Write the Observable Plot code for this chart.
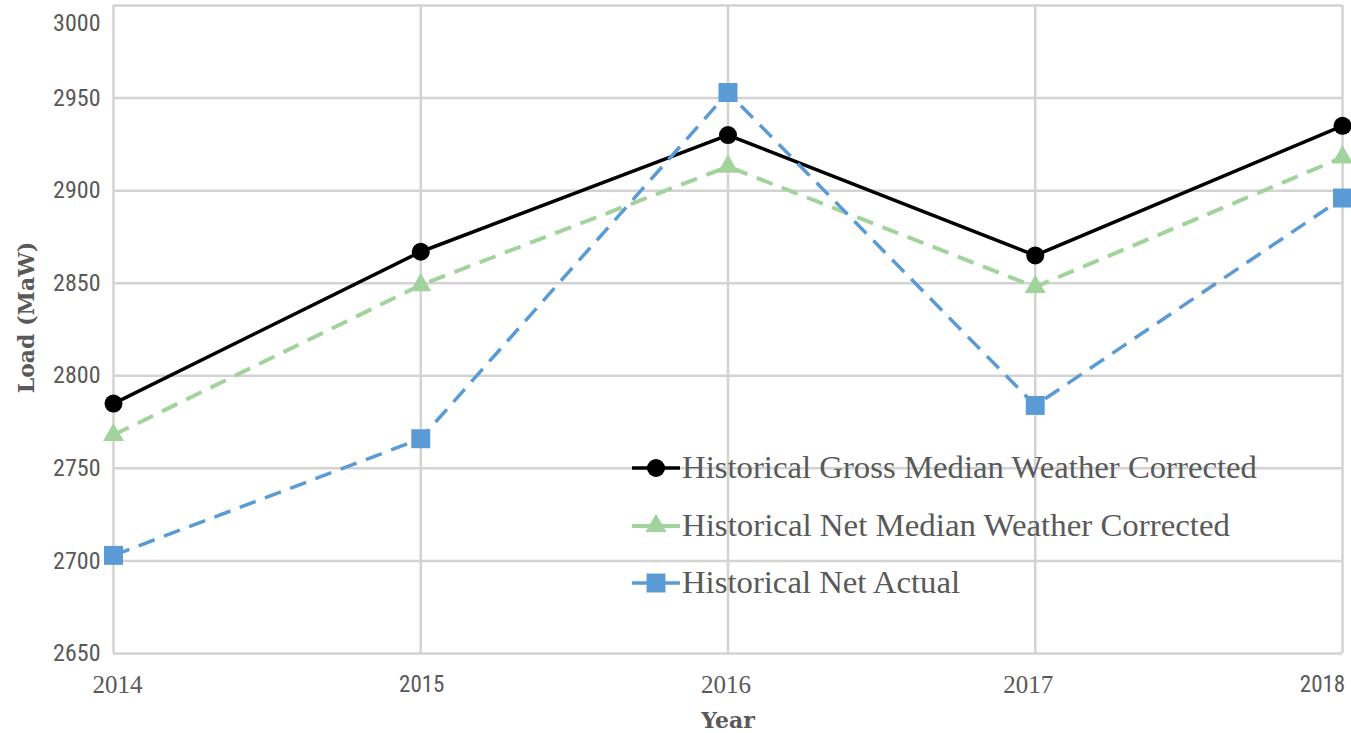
<!DOCTYPE html>
<html>
<head>
<meta charset="utf-8">
<script src="https://cdn.jsdelivr.net/npm/d3@7"></script>
<script src="https://cdn.jsdelivr.net/npm/@observablehq/plot@0.6"></script>
<style>
  html, body { margin: 0; padding: 0; background: #fff; }
  #wrap { position: relative; width: 1351px; height: 733px; }
  #legend { position: absolute; left: 0; top: 0; pointer-events: none; }
</style>
</head>
<body>
<div id="wrap"></div>
<script>
const years = [2014, 2015, 2016, 2017, 2018];
const grossMedianWC = [2785, 2867, 2930, 2865, 2935];
const netMedianWC = [2768, 2849, 2913, 2848, 2918];
const netActual = [2703, 2766, 2953, 2784, 2896];
const seriesNames = [
  "Historical Gross Median Weather Corrected",
  "Historical Net Median Weather Corrected",
  "Historical Net Actual"
];
const yTicks = [2650, 2700, 2750, 2800, 2850, 2900, 2950, 3000];

const colors = ["#000000", "#a3d39c", "#5b9bd5"];
const symbols = ["circle", "triangle", "square"];
const radii = [9, 7.8, 10.7];
const dashes = [null, "17,10", "17,10"];
const widths = [3.5, 4, 3.5];

const seriesVals = [grossMedianWC, netMedianWC, netActual];
const rows = [];
seriesVals.forEach((vals, s) => years.forEach((yr, i) => rows.push({series: seriesNames[s], s, year: yr, value: vals[i]})));

const sansFont = "'Liberation Sans Narrow', 'Roboto Condensed', 'Roboto', sans-serif";
const serifFont = "'Liberation Serif', serif";
const titleFont = "'DejaVu Serif', serif";

const marks = [
  Plot.gridX(years, {stroke: "#d3d3d3", strokeOpacity: 1, strokeWidth: 2.5}),
  Plot.gridY(yTicks, {stroke: "#d3d3d3", strokeOpacity: 1, strokeWidth: 2.5}),
  Plot.axisY(yTicks, {tickSize: 0, tickPadding: 13, fontSize: 24, fill: "#595959",
    fontFamily: sansFont, tickFormat: d => String(d),
    label: "Load (MaW)", labelAnchor: "center", labelArrow: "none", labelOffset: 93}),
  Plot.axisX(years, {tickSize: 0, tickPadding: 22, fontSize: 24, fill: "#595959",
    fontFamily: serifFont, tickFormat: d => String(d),
    label: "Year", labelAnchor: "center", labelArrow: "none", labelOffset: 74})
];
seriesNames.forEach((name, s) => {
  const data = rows.filter(r => r.s === s);
  marks.push(Plot.line(data, {x: "year", y: "value", stroke: colors[s], strokeWidth: widths[s],
    strokeDasharray: dashes[s], strokeLinecap: "butt"}));
});
seriesNames.forEach((name, s) => {
  const data = rows.filter(r => r.s === s);
  marks.push(Plot.dot(data, {x: "year", y: "value", symbol: () => symbols[s], r: radii[s],
    fill: colors[s], stroke: "none"}));
});

const chart = Plot.plot({
  width: 1351,
  height: 733,
  marginLeft: 113,
  marginRight: 9,
  marginTop: 5,
  marginBottom: 80,
  style: {background: "#fff", overflow: "visible"},
  x: {type: "linear", domain: [2014, 2018]},
  y: {domain: [2650, 3000]},
  marks
});
document.getElementById("wrap").appendChild(chart);

// style tweaks for axis text
const svg = d3.select(chart);
const xFonts = [serifFont, sansFont, serifFont, serifFont, sansFont];
const xSizes = [25, 23, 25, 25, 23];
const xShift = [4, 1, -2, -7, -20];
svg.selectAll('g[aria-label="x-axis tick label"] text').each(function(d, i) {
  d3.select(this).style("font-family", xFonts[i]).style("font-size", xSizes[i] + "px").attr("dx", xShift[i]);
});
svg.selectAll('g[aria-label="y-axis tick label"] text').each(function() {
  const t = d3.select(this);
  if (t.text() === "3000") t.attr("dy", "0.75em");
});
svg.selectAll('g[aria-label="y-axis label"] text, g[aria-label="x-axis label"] text')
  .style("font-family", titleFont)
  .style("font-weight", "bold").style("font-size", "22px").style("fill", "#595959");
svg.selectAll('g[aria-label="y-axis label"] text').attr("dy", "-0.1em").attr("dx", 12);

// legend overlay
const leg = d3.select("#wrap").append("svg").attr("id", "legend").attr("width", 1351).attr("height", 733);
const legY = [468, 526, 583];
const legW = [575, 548, 278];
seriesNames.forEach((name, s) => {
  const g = leg.append("g").attr("transform", `translate(632,${legY[s]})`);
  g.append("line").attr("x1", 0).attr("x2", 48).attr("y1", 0).attr("y2", 0)
    .attr("stroke", colors[s]).attr("stroke-width", widths[s]);
  g.append("path").attr("transform", "translate(24,0)")
    .attr("d", d3.symbol(s === 0 ? d3.symbolCircle : s === 1 ? d3.symbolTriangle : d3.symbolSquare, Math.PI * radii[s] * radii[s])())
    .attr("fill", colors[s]);
  g.append("text").attr("x", 50).attr("y", 10).text(name)
    .attr("font-family", serifFont).attr("font-size", 31).attr("fill", "#595959")
    .attr("textLength", legW[s]).attr("lengthAdjust", "spacingAndGlyphs");
});
</script>
</body>
</html>
